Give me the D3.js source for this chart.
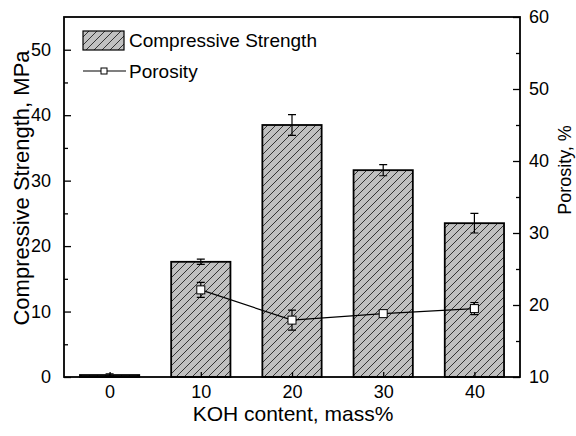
<!DOCTYPE html>
<html>
<head>
<meta charset="utf-8">
<script src="https://cdn.jsdelivr.net/npm/d3@7"></script>
<style>
  body { margin: 0; background: #fff; }
  text { font-family: 'Liberation Sans', Arial, sans-serif; fill: #000; }
</style>
</head>
<body>
<svg id="chart" width="576" height="436"></svg>
<script>
const kohContent = [0, 10, 20, 30, 40]
const strength = [0.3, 17.6, 38.5, 31.6, 23.5]
const strengthErr = [0.2, 0.4, 1.6, 0.85, 1.5]
const porosityX = [10, 20, 30, 40]
const porosity = [22.1, 17.9, 18.8, 19.5]
const porosityErr = [1.05, 1.4, 0.3, 0.85]
const leftTicks = [0, 10, 20, 30, 40, 50]
const rightTicks = [10, 20, 30, 40, 50, 60]

const svg = d3.select('#chart')
const margin = { left: 64, right: 56, top: 17, bottom: 59 }
const width = 576 - margin.left - margin.right
const height = 436 - margin.top - margin.bottom

const x = d3.scaleLinear().domain([-5, 45]).range([0, width])
const yL = d3.scaleLinear().domain([0, 55]).range([height, 0])
const yR = d3.scaleLinear().domain([10, 60]).range([height, 0])
const barW = x(6.5) - x(0)

// hatch pattern
const defs = svg.append('defs')
const pat = defs.append('pattern')
  .attr('id', 'hatch')
  .attr('patternUnits', 'userSpaceOnUse')
  .attr('width', 8).attr('height', 8)
pat.append('rect').attr('width', 8).attr('height', 8).attr('fill', '#c0c0c0')
pat.append('path')
  .attr('d', 'M-2,2 L2,-2 M0,8 L8,0 M6,10 L10,6')
  .attr('stroke', '#222').attr('stroke-width', 0.9)

const g = svg.append('g')
  .attr('transform', 'translate(' + margin.left + ',' + margin.top + ')')

// bars
g.selectAll('.bar')
  .data(kohContent)
  .enter().append('rect')
  .attr('class', 'bar')
  .attr('x', (d) => x(d) - barW / 2)
  .attr('y', (d, i) => yL(strength[i]))
  .attr('width', barW)
  .attr('height', (d, i) => height - yL(strength[i]))
  .attr('fill', 'url(#hatch)')
  .attr('stroke', '#000')
  .attr('stroke-width', 1.8)

// bar error bars
kohContent.forEach((d, i) => {
  const cx = x(d)
  const y1 = yL(strength[i] + strengthErr[i])
  const y2 = yL(strength[i] - strengthErr[i])
  g.append('path')
    .attr('d', `M${cx},${y1}V${y2}M${cx - 4},${y1}H${cx + 4}M${cx - 4},${y2}H${cx + 4}`)
    .attr('stroke', '#000').attr('stroke-width', 1.2).attr('fill', 'none')
})

// porosity line
const line = d3.line()
  .x((d) => x(d))
  .y((d, i) => yR(porosity[i]))
g.append('path')
  .datum(porosityX)
  .attr('d', line)
  .attr('fill', 'none')
  .attr('stroke', '#000')
  .attr('stroke-width', 1.2)

porosityX.forEach((d, i) => {
  const cx = x(d)
  const y1 = yR(porosity[i] + porosityErr[i])
  const y2 = yR(porosity[i] - porosityErr[i])
  g.append('path')
    .attr('d', `M${cx},${y1}V${y2}M${cx - 4},${y1}H${cx + 4}M${cx - 4},${y2}H${cx + 4}`)
    .attr('stroke', '#000').attr('stroke-width', 1.2).attr('fill', 'none')
  g.append('rect')
    .attr('x', cx - 4).attr('y', yR(porosity[i]) - 4)
    .attr('width', 8).attr('height', 8)
    .attr('fill', '#fff').attr('stroke', '#000').attr('stroke-width', 1)
})

// axes
const fontSize = '18px'
const bottomAxis = g.append('g')
  .attr('transform', 'translate(0,' + height + ')')
  .call(d3.axisBottom(x).tickValues(kohContent).tickSize(-5).tickPadding(8))
const leftAxis = g.append('g')
  .call(d3.axisLeft(yL).tickValues(leftTicks).tickSize(-7).tickPadding(13))
const leftMinor = g.append('g')
  .call(d3.axisLeft(yL).tickValues([5, 15, 25, 35, 45]).tickSize(-4).tickFormat(''))
const rightAxis = g.append('g')
  .attr('transform', 'translate(' + width + ',0)')
  .call(d3.axisRight(yR).tickValues(rightTicks).tickSize(-7).tickPadding(9))
const rightMinor = g.append('g')
  .attr('transform', 'translate(' + width + ',0)')
  .call(d3.axisRight(yR).tickValues([15, 25, 35, 45, 55]).tickSize(-4).tickFormat(''))

;[bottomAxis, leftAxis, rightAxis, leftMinor, rightMinor].forEach((a) => {
  a.select('.domain').remove()
  a.selectAll('line').attr('stroke', '#000').attr('stroke-width', 1.3)
  a.selectAll('text').style('font-size', fontSize).attr('font-family', null)
})

// frame
g.append('rect')
  .attr('width', width).attr('height', height)
  .attr('fill', 'none').attr('stroke', '#000').attr('stroke-width', 1.8)

// titles
svg.append('text')
  .attr('x', margin.left + width / 2 + 1).attr('y', 421)
  .attr('text-anchor', 'middle').style('font-size', '21px')
  .text('KOH content, mass%')
svg.append('text')
  .attr('transform', 'translate(29,188) rotate(-90)')
  .attr('text-anchor', 'middle').style('font-size', '22px')
  .text('Compressive Strength, MPa')
svg.append('text')
  .attr('transform', 'translate(571,170) rotate(-90)')
  .attr('text-anchor', 'middle').style('font-size', '18px')
  .text('Porosity, %')

// legend
const lg = svg.append('g')
lg.append('rect')
  .attr('x', 83).attr('y', 31).attr('width', 41).attr('height', 19)
  .attr('fill', 'url(#hatch)').attr('stroke', '#000').attr('stroke-width', 1.2)
lg.append('text').attr('x', 129).attr('y', 47).style('font-size', '19px').text('Compressive Strength')
lg.append('line')
  .attr('x1', 83).attr('x2', 126).attr('y1', 71).attr('y2', 71)
  .attr('stroke', '#000').attr('stroke-width', 1.2)
lg.append('rect')
  .attr('x', 101).attr('y', 68).attr('width', 6).attr('height', 6)
  .attr('fill', '#fff').attr('stroke', '#000').attr('stroke-width', 1)
lg.append('text').attr('x', 129).attr('y', 78).style('font-size', '19px').text('Porosity')
</script>
</body>
</html>
